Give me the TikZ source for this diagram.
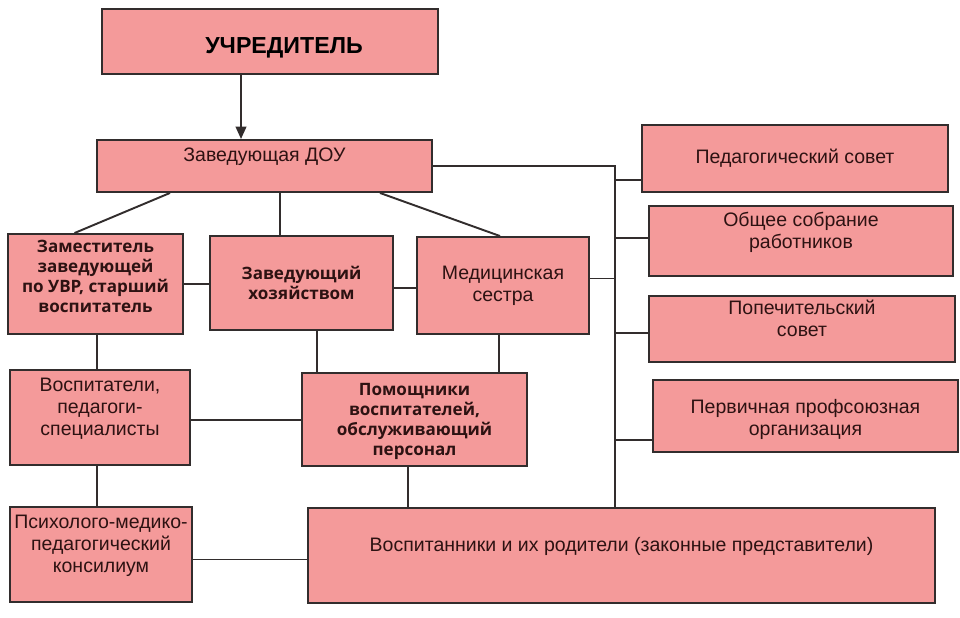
\documentclass[tikz,border=0pt]{standalone}
\usepackage{fontspec}
\setmainfont{Liberation Sans}
\newfontfamily\opensans{Open Sans}
\usetikzlibrary{arrows.meta,positioning}
\definecolor{boxfill}{RGB}{244,154,154}
\definecolor{boxline}{RGB}{50,45,45}
\definecolor{boxtext}{RGB}{45,18,18}
\tikzset{
  block/.style={draw=boxline,fill=boxfill,rectangle,line width=1.1pt,align=center,text=boxtext,inner sep=1pt,font=\fontsize{11.1}{12.5}\selectfont},
  semiblock/.style={block,font=\opensans\bfseries\fontsize{9.7}{11.3}\selectfont},
  link/.style={draw=boxline,line width=1.1pt}
}
\begin{document}
\begin{tikzpicture}[>={Triangle[length=7pt,width=6pt]},x=0.02cm,y=-0.02cm]
  \useasboundingbox (0,0) rectangle (960,618);
  \node[block,minimum width=6.72cm,minimum height=1.3cm,text=black,text height=14pt,text depth=0pt,font=\bfseries\fontsize{13.2}{15}\selectfont] (uchr) at (270,41.5) {\hspace*{0.56cm}УЧРЕДИТЕЛЬ};
  \node[block,minimum width=6.7cm,minimum height=1.04cm] (zav) at (264.5,166) {Заведующая ДОУ\\\mbox{}};
  \node[semiblock,minimum width=3.5cm,minimum height=2cm,text depth=9pt] (zam) at (95.5,284) {Заместитель\\заведующей\\по УВР, старший\\воспитатель};
  \node[semiblock,minimum width=3.66cm,minimum height=1.88cm] (zavhoz) at (301.5,283) {Заведующий\\хозяйством};
  \node[block,minimum width=3.44cm,minimum height=1.94cm] (med) at (503,285.5) {Медицинская\\сестра};
  \node[block,minimum width=3.6cm,minimum height=1.9cm] (vosp) at (100,417.5) {Воспитатели,\\педагоги-\\специалисты\\\mbox{}};
  \node[semiblock,minimum width=4.5cm,minimum height=1.86cm,text depth=-3.5pt] (pom) at (414.5,419.5) {Помощники\\воспитателей,\\обслуживающий\\персонал};
  \node[block,minimum width=3.64cm,minimum height=1.9cm] (psy) at (101,554.5) {Психолого-медико-\\педагогический\\консилиум\\\mbox{}};
  \node[block,minimum width=12.54cm,minimum height=1.9cm] (vospit) at (621.5,555.5) {Воспитанники и их родители (законные представители)\\\mbox{}};
  \node[block,minimum width=6.12cm,minimum height=1.34cm] (ped) at (795,158.5) {Педагогический совет};
  \node[block,minimum width=6.08cm,minimum height=1.4cm] (obsh) at (801,241) {Общее собрание\\работников\\\mbox{}};
  \node[block,minimum width=6.12cm,minimum height=1.32cm] (popech) at (802,329) {Попечительский\\совет\\\mbox{}};
  \node[block,minimum width=6.1cm,minimum height=1.44cm] (perv) at (805.5,416) {\mbox{}\\Первичная профсоюзная\\организация};
  \coordinate (bus) at (615,0);
  % top of the chart
  \draw[link,->] ([xshift=-0.58cm]uchr.south) -- ([xshift=-0.58cm]uchr.south |- zav.north);
  \draw[link] ([xshift=-1.89cm]zav.south) -- ([xshift=-0.42cm]zam.north);
  \draw[link] ([xshift=0.31cm]zav.south) -- ([xshift=0.31cm]zav.south |- zavhoz.north);
  \draw[link] ([xshift=2.31cm]zav.south) -- ([xshift=-0.06cm]med.north);
  \draw[link] (zam.east) -- (zavhoz.west |- zam.east);
  \draw[link] ([yshift=-0.1cm]zavhoz.east) -- ([yshift=-0.1cm]zavhoz.east -| med.west);
  % right column
  \draw[link] (zav.east) -- (zav.east -| bus) -- (bus |- vospit.north);
  \draw[link] ([yshift=0.14cm]med.east) -- ([yshift=0.14cm]med.east -| bus);
  \draw[link] ([yshift=-0.43cm]ped.west) -- ([yshift=-0.43cm]ped.west -| bus);
  \draw[link] ([yshift=0.06cm]obsh.west) -- ([yshift=0.06cm]obsh.west -| bus);
  \draw[link] ([yshift=-0.08cm]popech.west) -- ([yshift=-0.08cm]popech.west -| bus);
  \draw[link] ([yshift=-0.48cm]perv.west) -- ([yshift=-0.48cm]perv.west -| bus);
  % lower levels
  \draw[link] ([xshift=0.03cm]zam.south) -- ([xshift=0.03cm]zam.south |- vosp.north);
  \draw[link] ([xshift=0.31cm]zavhoz.south) -- ([xshift=0.31cm]zavhoz.south |- pom.north);
  \draw[link] ([xshift=-0.08cm]med.south) -- ([xshift=-0.08cm]med.south |- pom.north);
  \draw[link] ([yshift=-0.05cm]vosp.east) -- ([yshift=-0.05cm]vosp.east -| pom.west);
  \draw[link] ([xshift=-0.06cm]vosp.south) -- ([xshift=-0.06cm]vosp.south |- psy.north);
  \draw[link] ([xshift=-0.13cm]pom.south) -- ([xshift=-0.13cm]pom.south |- vospit.north);
  \draw[link] ([yshift=-0.1cm]psy.east) -- ([yshift=-0.1cm]psy.east -| vospit.west);
\end{tikzpicture}
\end{document}
